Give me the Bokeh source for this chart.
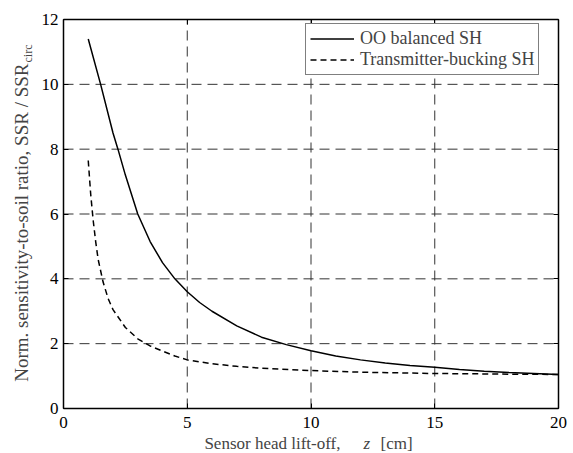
import math
from bokeh.plotting import figure
from bokeh.models import Range1d, Label, FixedTicker, LinearAxis, CustomJSTickFormatter
from bokeh.embed import file_html
from bokeh.resources import INLINE

# ---- data ----
z_oo = [1.0, 1.5, 2.0, 2.2, 2.5, 3.0, 3.5, 4.0, 4.5, 5.0, 5.5, 6.0, 7.0, 8.0, 9.0,
        10.0, 11.0, 12.0, 13.0, 14.0, 15.0, 16.0, 17.0, 18.0, 19.0, 20.0]
ssr_oo = [11.4, 10.0, 8.5, 8.0, 7.2, 6.0, 5.15, 4.5, 4.0, 3.6, 3.27, 3.0, 2.55, 2.2, 1.97,
          1.78, 1.62, 1.5, 1.4, 1.33, 1.27, 1.2, 1.15, 1.11, 1.08, 1.05]

z_tb = [1.0, 1.1, 1.2, 1.3, 1.4, 1.6, 1.8, 2.0, 2.5, 3.0, 3.5, 4.0, 4.5, 5.0, 6.0, 7.0,
        8.0, 10.0, 12.0, 15.0, 18.0, 20.0]
ssr_tb = [7.65, 6.6, 5.8, 5.15, 4.6, 3.9, 3.4, 3.05, 2.5, 2.15, 1.93, 1.77, 1.62, 1.5, 1.38, 1.3,
          1.24, 1.17, 1.12, 1.08, 1.06, 1.05]

x_ticks = [0, 5, 10, 15, 20]
y_ticks = [0, 2, 4, 6, 8, 10, 12]
x_limits = (0, 20)
y_limits = (0, 12)

series_names = ["OO balanced SH", "Transmitter-bucking SH"]
x_label_parts = ["Sensor head lift-off,", "z", "[cm]"]
y_label_main = "Norm. sensitivity-to-soil ratio, SSR / SSR"
y_label_sub = "circ"

FONT = "Liberation Serif"

# ---- layout: the Bokeh frame spans the whole canvas; the axes box sits inside it ----
W, H = 573, 453
BOX_L, BOX_R, BOX_T, BOX_B = 63, 558, 19, 408
sx = (BOX_R - BOX_L) / (x_limits[1] - x_limits[0])
sy = (BOX_B - BOX_T) / (y_limits[1] - y_limits[0])
x_range = Range1d(x_limits[0] - BOX_L / sx, x_limits[1] + (W - BOX_R) / sx)
y_range = Range1d(y_limits[0] - (H - BOX_B) / sy, y_limits[1] + BOX_T / sy)

p = figure(width=W, height=H, output_backend="svg", toolbar_location=None,
           x_range=x_range, y_range=y_range, min_border=0,
           x_axis_location=None, y_axis_location=None,
           background_fill_color="white", border_fill_color="white")
p.outline_line_color = None
p.xgrid.visible = False
p.ygrid.visible = False

# dashed grid drawn from the tick lists
p.segment(x0=x_ticks, y0=[y_limits[0]] * len(x_ticks), x1=x_ticks, y1=[y_limits[1]] * len(x_ticks),
          line_color="#333333", line_width=1, line_dash="10 6")
p.segment(x0=[x_limits[0]] * len(y_ticks), y0=y_ticks, x1=[x_limits[1]] * len(y_ticks), y1=y_ticks,
          line_color="#333333", line_width=1, line_dash="10 6")

# axes: bottom/left with labels, top/right as plain box edges with inward ticks
bottom_ax = LinearAxis()
left_ax = LinearAxis()
top_ax = LinearAxis()
right_ax = LinearAxis()
p.add_layout(bottom_ax, "below")
p.add_layout(left_ax, "left")
p.add_layout(top_ax, "above")
p.add_layout(right_ax, "right")

for ax, loc, bnds, ticks in ((bottom_ax, y_limits[0], x_limits, x_ticks),
                             (left_ax, x_limits[0], y_limits, y_ticks),
                             (top_ax, y_limits[1], x_limits, x_ticks),
                             (right_ax, x_limits[1], y_limits, y_ticks)):
    ax.fixed_location = loc
    ax.bounds = bnds
    ax.ticker = FixedTicker(ticks=ticks)
    ax.axis_line_width = 1.5
    ax.axis_line_color = "black"
    ax.major_tick_in = 5
    ax.major_tick_out = 0
    ax.major_tick_line_color = "black"
    ax.minor_tick_line_color = None
    ax.major_label_text_font = FONT
    ax.major_label_text_font_size = "17px"
    ax.major_label_text_color = "black"
top_ax.formatter = CustomJSTickFormatter(code="return ''")
right_ax.formatter = CustomJSTickFormatter(code="return ''")
bottom_ax.major_label_standoff = 8
left_ax.major_label_standoff = 5

p.line(z_oo, ssr_oo, line_color="black", line_width=1.5, legend_label=series_names[0])
p.line(z_tb, ssr_tb, line_color="black", line_width=1.5, line_dash="6 4",
       legend_label=series_names[1])

lg = p.legend[0]
lg.location = (305, H - 75)
lg.margin = 0
lg.border_line_color = "black"
lg.border_line_width = 1
lg.background_fill_color = "white"
lg.background_fill_alpha = 1
lg.label_text_font = FONT
lg.label_text_font_size = "18px"
lg.glyph_width = 44
lg.glyph_height = 19
lg.label_height = 19
lg.label_standoff = 6
lg.padding = 4
lg.spacing = -3

# x-axis label (with italic z)
common = dict(text_baseline="alphabetic", text_font=FONT)
xl_y = y_limits[0] - 35 / sy
p.add_layout(Label(x=x_limits[0] + 277 / sx, y=xl_y, text=x_label_parts[0], text_align="right",
                   text_font_size="17px", **common))
p.add_layout(Label(x=x_limits[0] + 300 / sx, y=xl_y, text=x_label_parts[1], text_align="left",
                   text_font_style="italic", text_font_size="17px", **common))
p.add_layout(Label(x=x_limits[0] + 317 / sx, y=xl_y, text=x_label_parts[2], text_align="left",
                   text_font_size="17px", **common))

# y-axis label with subscript
yl_end = y_limits[0] + 345 / sy
p.add_layout(Label(x=x_limits[0] - 42 / sx, y=yl_end, text=y_label_main, angle=math.pi / 2,
                   text_align="right", text_font_size="19px", **common))
p.add_layout(Label(x=x_limits[0] - 36 / sx, y=yl_end + 1 / sy, text=y_label_sub, angle=math.pi / 2,
                   text_align="left", text_font_size="12px", **common))

open("out.html", "w").write(file_html(p, INLINE))
